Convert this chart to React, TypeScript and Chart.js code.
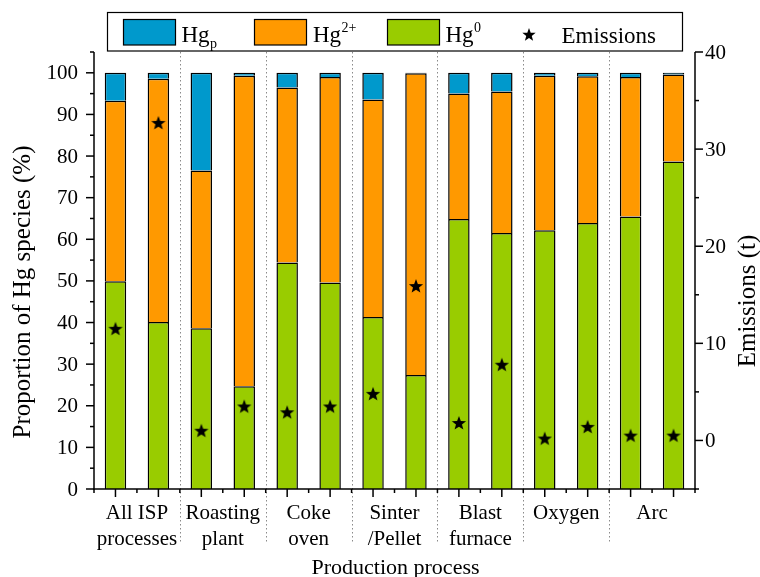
import React, { useEffect, useRef } from 'react';
import { Chart, registerables } from 'chart.js';

Chart.register(...registerables);

const BAR_LABELS = [
  'All ISP processes (a)', 'All ISP processes (b)',
  'Roasting plant (a)', 'Roasting plant (b)',
  'Coke oven (a)', 'Coke oven (b)',
  'Sinter/Pellet (a)', 'Sinter/Pellet (b)',
  'Blast furnace (a)', 'Blast furnace (b)',
  'Oxygen (a)', 'Oxygen (b)',
  'Arc (a)', 'Arc (b)',
];
const GROUP_LABELS = [
  ['All ISP', 'processes'],
  ['Roasting', 'plant'],
  ['Coke', 'oven'],
  ['Sinter', '/Pellet'],
  ['Blast', 'furnace'],
  ['Oxygen'],
  ['Arc'],
];
const HG0 = [49.9, 40.1, 38.6, 24.7, 54.4, 49.6, 41.3, 27.4, 64.9, 61.5, 62.2, 63.9, 65.5, 78.7];
const HG2 = [43.4, 58.5, 37.9, 74.6, 42.1, 49.4, 52.3, 72.5, 30.1, 34.0, 37.1, 35.3, 33.5, 20.9];
const HGP = [6.7, 1.4, 23.5, 0.7, 3.5, 1.0, 6.4, 0.1, 5.0, 4.5, 0.7, 0.8, 1.0, 0.4];
const EMISSIONS = [11.5, 32.7, 1.0, 3.5, 2.9, 3.5, 4.8, 15.9, 1.8, 7.8, 0.2, 1.4, 0.5, 0.5];

const LEFT_TITLE = 'Proportion of Hg species (%)';
const RIGHT_TITLE = 'Emissions (t)';
const X_TITLE = 'Production process';

const C_BLUE = '#0099CC';
const C_ORANGE = '#FF9900';
const C_GREEN = '#99CC00';

const FONT = '"Liberation Serif", "Times New Roman", Times, serif';
Chart.defaults.font.family = FONT;

function drawStar(ctx: CanvasRenderingContext2D, cx: number, cy: number, R: number, r: number) {
  ctx.beginPath();
  for (let i = 0; i < 10; i++) {
    const ang = -Math.PI / 2 + (i * Math.PI) / 5;
    const rad = i % 2 === 0 ? R : r;
    const px = cx + rad * Math.cos(ang);
    const py = cy + rad * Math.sin(ang);
    if (i === 0) ctx.moveTo(px, py);
    else ctx.lineTo(px, py);
  }
  ctx.closePath();
  ctx.fillStyle = '#000';
  ctx.fill();
}

function makeStar(size: number) {
  const c = document.createElement('canvas');
  c.width = size;
  c.height = size;
  const g = c.getContext('2d')!;
  drawStar(g, size / 2, size / 2 + 0.5, size / 2 - 0.5, (size / 2 - 0.5) * 0.42);
  return c;
}

function line(ctx: CanvasRenderingContext2D, x1: number, y1: number, x2: number, y2: number) {
  ctx.beginPath();
  ctx.moveTo(x1, y1);
  ctx.lineTo(x2, y2);
  ctx.stroke();
}

const customPlugin = {
  id: 'customDraw',
  afterDraw(chart: any) {
    const ctx: CanvasRenderingContext2D = chart.ctx;
    const { left, right, top, bottom } = chart.chartArea;
    const xs = chart.scales.x;
    const ys = chart.scales.y;
    const ys2 = chart.scales.y2;
    const n = BAR_LABELS.length;
    const step = (right - left) / n;
    ctx.save();

    // dotted group separators
    ctx.strokeStyle = '#8a8a8a';
    ctx.lineWidth = 1;
    ctx.setLineDash([1.5, 2.5]);
    for (let g = 1; g < GROUP_LABELS.length; g++) {
      const px = Math.round((xs.getPixelForValue(2 * g - 1) + xs.getPixelForValue(2 * g)) / 2) + 0.5;
      line(ctx, px, top, px, bottom + 54);
    }
    ctx.setLineDash([]);

    // axes
    ctx.strokeStyle = '#000';
    ctx.lineWidth = 1.5;
    line(ctx, left, top, left, bottom + 0.75);
    line(ctx, right, top, right, bottom + 0.75);
    line(ctx, left - 0.75, bottom, right + 0.75, bottom);

    ctx.fillStyle = '#000';
    ctx.font = `21px ${FONT}`;
    ctx.textBaseline = 'middle';
    // left ticks + labels
    ys.ticks.forEach((t: any) => {
      const py = ys.getPixelForValue(t.value);
      const major = t.value % 10 === 0;
      line(ctx, left - (major ? 8 : 4), py, left, py);
      if (major) {
        ctx.textAlign = 'right';
        ctx.fillText(String(t.value), left - 16, py + 1);
      }
    });
    // right ticks + labels
    ys2.ticks.forEach((t: any) => {
      const py = ys2.getPixelForValue(t.value);
      const major = t.value % 10 === 0;
      line(ctx, right, py, right + (major ? 8 : 4), py);
      if (major && t.value >= 0) {
        ctx.textAlign = 'left';
        ctx.fillText(String(t.value), right + 10, py + 1);
      }
    });
    // bottom ticks
    for (let i = 0; i < n; i++) {
      const px = xs.getPixelForValue(i);
      line(ctx, px, bottom, px, bottom + 8);
    }
    for (let i = 0; i <= n; i++) {
      const px = left + i * step;
      line(ctx, px, bottom, px, bottom + 4);
    }

    // category labels
    ctx.textAlign = 'center';
    ctx.textBaseline = 'alphabetic';
    ctx.font = `21px ${FONT}`;
    GROUP_LABELS.forEach((lines, g) => {
      const cx = (xs.getPixelForValue(2 * g) + xs.getPixelForValue(2 * g + 1)) / 2;
      lines.forEach((txt, k) => {
        ctx.fillText(txt, cx, bottom + 30 + k * 26);
      });
    });

    // x title
    ctx.font = `22px ${FONT}`;
    ctx.fillText(X_TITLE, (left + right) / 2 + 1, 574);

    // left title
    ctx.save();
    ctx.translate(30, 292);
    ctx.rotate(-Math.PI / 2);
    ctx.font = `25px ${FONT}`;
    ctx.textAlign = 'center';
    ctx.fillText(LEFT_TITLE, 0, 0);
    ctx.restore();

    // right title
    ctx.save();
    ctx.translate(755, 301);
    ctx.rotate(-Math.PI / 2);
    ctx.font = `25px ${FONT}`;
    ctx.textAlign = 'center';
    ctx.fillText(RIGHT_TITLE, 0, 0);
    ctx.restore();

    // legend
    ctx.lineWidth = 1.2;
    ctx.strokeStyle = '#000';
    ctx.strokeRect(107.5, 12.5, 575, 38.5);
    const sw = (x: number, color: string) => {
      ctx.fillStyle = color;
      ctx.fillRect(x, 19.5, 52, 25.5);
      ctx.lineWidth = 1.2;
      ctx.strokeRect(x, 19.5, 52, 25.5);
    };
    const hgText = (x: number, extra: string, sup: boolean) => {
      ctx.fillStyle = '#000';
      ctx.textAlign = 'left';
      ctx.font = `23px ${FONT}`;
      ctx.fillText('Hg', x, 42);
      const w = ctx.measureText('Hg').width;
      ctx.font = `14px ${FONT}`;
      ctx.fillText(extra, x + w + 0.5, sup ? 32 : 48);
    };
    sw(123.5, C_BLUE);
    hgText(181.5, 'p', false);
    sw(254.5, C_ORANGE);
    hgText(313, '2+', true);
    sw(387.5, C_GREEN);
    hgText(445.5, '0', true);
    drawStar(ctx, 529, 35, 7, 2.9);
    ctx.fillStyle = '#000';
    ctx.font = `23px ${FONT}`;
    ctx.textAlign = 'left';
    ctx.fillText('Emissions', 561.5, 43);

    ctx.restore();
  },
};

export default function App() {
  const ref = useRef<HTMLCanvasElement | null>(null);

  useEffect(() => {
    if (!ref.current) return;
    const star = makeStar(16);
    const barBase = {
      borderColor: '#000',
      borderWidth: 1.5,
      yAxisID: 'y',
      stack: 's',
      order: 1,
      barPercentage: 0.5,
      categoryPercentage: 1.0,
    };
    const chart = new Chart(ref.current, {
      type: 'bar',
      data: {
        labels: BAR_LABELS,
        datasets: [
          {
            type: 'line',
            label: 'Emissions',
            data: EMISSIONS,
            yAxisID: 'y2',
            showLine: false,
            pointStyle: star as any,
            pointRadius: 8,
            pointHoverRadius: 8,
            borderColor: '#000',
            backgroundColor: '#000',
            order: 0,
          } as any,
          { ...barBase, label: 'Hg0', data: HG0, backgroundColor: C_GREEN } as any,
          { ...barBase, label: 'Hg2+', data: HG2, backgroundColor: C_ORANGE } as any,
          { ...barBase, label: 'Hgp', data: HGP, backgroundColor: C_BLUE } as any,
        ],
      },
      options: {
        animation: false,
        responsive: true,
        maintainAspectRatio: false,
        layout: { padding: { top: 52, left: 0, right: 0, bottom: 0 } },
        plugins: { legend: { display: false }, tooltip: { enabled: false } },
        scales: {
          x: {
            stacked: true,
            offset: true,
            grid: { display: false, drawTicks: false },
            border: { display: false },
            ticks: { display: false },
            afterFit: (s: any) => {
              s.height = 88;
            },
          },
          y: {
            stacked: true,
            position: 'left',
            min: 0,
            max: 105,
            grid: { display: false, drawTicks: false },
            border: { display: false },
            ticks: { stepSize: 5, autoSkip: false, display: false },
            afterFit: (s: any) => {
              s.width = 94;
            },
          },
          y2: {
            position: 'right',
            min: -5,
            max: 40,
            grid: { display: false, drawTicks: false },
            border: { display: false },
            ticks: { stepSize: 5, autoSkip: false, display: false },
            afterFit: (s: any) => {
              s.width = 65;
            },
          },
        },
      } as any,
      plugins: [customPlugin],
    });
    return () => chart.destroy();
  }, []);

  return (
    <div style={{ position: 'fixed', left: 0, top: 0, width: 760, height: 577, background: '#fff' }}>
      <canvas ref={ref} />
    </div>
  );
}
